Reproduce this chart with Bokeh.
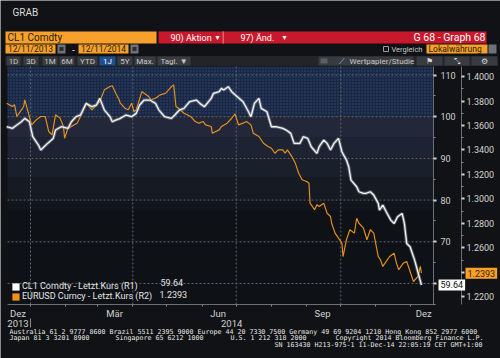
import pandas as pd
from bokeh.plotting import figure
from bokeh.models import (Range1d, LinearAxis, DatetimeAxis, FixedTicker, Label, BoxAnnotation,
                          Legend, LegendItem, CustomJSTickFormatter, PrintfTickFormatter)
from bokeh.embed import file_html
from bokeh.resources import INLINE

# ---------------- data ----------------
cl1_dates = ["2013-12-11", "2013-12-16", "2013-12-20", "2013-12-24", "2013-12-27", "2013-12-31",
             "2014-01-03", "2014-01-08", "2014-01-10", "2014-01-13", "2014-01-16", "2014-01-21",
             "2014-01-23", "2014-01-28", "2014-02-03", "2014-02-06", "2014-02-10", "2014-02-14",
             "2014-02-19", "2014-02-24", "2014-02-28", "2014-03-03", "2014-03-07", "2014-03-12",
             "2014-03-14", "2014-03-17", "2014-03-21", "2014-03-26", "2014-03-31", "2014-04-04",
             "2014-04-07", "2014-04-11", "2014-04-16", "2014-04-21", "2014-04-24", "2014-04-29",
             "2014-05-05", "2014-05-08", "2014-05-12", "2014-05-16", "2014-05-21", "2014-05-27",
             "2014-05-30", "2014-06-03", "2014-06-09", "2014-06-11", "2014-06-16", "2014-06-18",
             "2014-06-20", "2014-06-24", "2014-06-27", "2014-07-02", "2014-07-07", "2014-07-11",
             "2014-07-14", "2014-07-17", "2014-07-21", "2014-07-23", "2014-07-28", "2014-08-01",
             "2014-08-05", "2014-08-11", "2014-08-14", "2014-08-18", "2014-08-21", "2014-08-26",
             "2014-08-29", "2014-09-02", "2014-09-05", "2014-09-10", "2014-09-12", "2014-09-16",
             "2014-09-19", "2014-09-22", "2014-09-25", "2014-09-29", "2014-10-02", "2014-10-06",
             "2014-10-08", "2014-10-10", "2014-10-15", "2014-10-17", "2014-10-21", "2014-10-23",
             "2014-10-27", "2014-10-30", "2014-11-03", "2014-11-04", "2014-11-07", "2014-11-10",
             "2014-11-14", "2014-11-17", "2014-11-20", "2014-11-24", "2014-11-26", "2014-11-28",
             "2014-12-01", "2014-12-03", "2014-12-05", "2014-12-09", "2014-12-11"]
cl1_values = [97.6, 97.2, 98.0, 98.8, 99.6, 98.8,
              95.2, 93.2, 92.0, 92.8, 93.6, 94.8,
              96.8, 97.6, 97.2, 98.8, 100.0, 100.4,
              103.2, 102.4, 102.8, 104.4, 101.6, 100.0,
              98.8, 99.2, 99.6, 100.4, 100.0, 100.8,
              102.8, 104.0, 104.0, 103.2, 101.6, 100.0,
              99.6, 100.4, 101.6, 102.0, 103.6, 104.0,
              103.2, 102.4, 104.4, 105.6, 106.0, 106.8,
              106.4, 107.2, 106.0, 104.8, 103.6, 101.6,
              100.0, 103.2, 104.4, 102.0, 101.2, 97.6,
              97.6, 97.2, 96.8, 96.0, 93.6, 93.6,
              95.2, 94.8, 92.8, 91.2, 92.8, 94.4,
              93.6, 92.0, 93.6, 94.8, 91.6, 89.6,
              88.0, 84.8, 83.2, 82.0, 81.6, 81.6,
              82.0, 81.2, 79.2, 77.6, 78.8, 77.2,
              75.2, 74.4, 76.0, 76.8, 74.4, 69.6,
              68.8, 67.2, 65.6, 61.6, 59.64]

eur_dates = ["2013-12-11", "2013-12-16", "2013-12-18", "2013-12-20", "2013-12-24", "2013-12-26",
             "2013-12-27", "2013-12-31", "2014-01-02", "2014-01-06", "2014-01-10", "2014-01-14",
             "2014-01-17", "2014-01-20", "2014-01-23", "2014-01-27", "2014-01-30", "2014-01-31",
             "2014-02-03", "2014-02-06", "2014-02-11", "2014-02-14", "2014-02-19", "2014-02-24",
             "2014-02-27", "2014-03-03", "2014-03-07", "2014-03-12", "2014-03-14", "2014-03-17",
             "2014-03-20", "2014-03-21", "2014-03-25", "2014-03-28", "2014-03-31", "2014-04-02",
             "2014-04-04", "2014-04-09", "2014-04-11", "2014-04-15", "2014-04-17", "2014-04-21",
             "2014-04-25", "2014-04-30", "2014-05-05", "2014-05-07", "2014-05-09", "2014-05-13",
             "2014-05-16", "2014-05-22", "2014-05-26", "2014-05-29", "2014-06-02", "2014-06-04",
             "2014-06-09", "2014-06-10", "2014-06-13", "2014-06-16", "2014-06-18", "2014-06-23",
             "2014-06-27", "2014-06-30", "2014-07-03", "2014-07-07", "2014-07-10", "2014-07-14",
             "2014-07-16", "2014-07-21", "2014-07-25", "2014-07-29", "2014-08-01", "2014-08-04",
             "2014-08-07", "2014-08-11", "2014-08-13", "2014-08-15", "2014-08-19", "2014-08-22",
             "2014-08-25", "2014-08-28", "2014-09-01", "2014-09-03", "2014-09-04", "2014-09-08",
             "2014-09-10", "2014-09-12", "2014-09-16", "2014-09-19", "2014-09-22", "2014-09-23",
             "2014-09-26", "2014-09-29", "2014-10-02", "2014-10-03", "2014-10-06", "2014-10-09",
             "2014-10-13", "2014-10-15", "2014-10-17", "2014-10-21", "2014-10-24", "2014-10-27",
             "2014-10-30", "2014-11-03", "2014-11-05", "2014-11-07", "2014-11-10", "2014-11-13",
             "2014-11-17", "2014-11-19", "2014-11-21", "2014-11-25", "2014-11-28", "2014-12-01",
             "2014-12-04", "2014-12-08", "2014-12-10", "2014-12-11"]
eur_values = [1.3782, 1.3755, 1.3769, 1.3673, 1.3728, 1.3755,
              1.3810, 1.3673, 1.3605, 1.3646, 1.3673, 1.3673,
              1.3551, 1.3524, 1.3687, 1.3660, 1.3592, 1.3496,
              1.3578, 1.3592, 1.3619, 1.3673, 1.3782, 1.3728,
              1.3755, 1.3796, 1.3891, 1.3918, 1.3925, 1.3864,
              1.3810, 1.3782, 1.3741, 1.3728, 1.3782, 1.3714,
              1.3728, 1.3877, 1.3864, 1.3837, 1.3810, 1.3823,
              1.3850, 1.3864, 1.3918, 1.3932, 1.3755, 1.3728,
              1.3700, 1.3673, 1.3632, 1.3619, 1.3632, 1.3605,
              1.3592, 1.3537, 1.3551, 1.3564, 1.3592, 1.3619,
              1.3659, 1.3695, 1.3605, 1.3619, 1.3632, 1.3605,
              1.3537, 1.3510, 1.3455, 1.3428, 1.3414, 1.3373,
              1.3401, 1.3401, 1.3373, 1.3401, 1.3346, 1.3292,
              1.3210, 1.3156, 1.3142, 1.3128, 1.2965, 1.2911,
              1.2952, 1.2938, 1.2965, 1.2883, 1.2856, 1.2801,
              1.2720, 1.2679, 1.2638, 1.2529, 1.2666, 1.2748,
              1.2720, 1.2842, 1.2801, 1.2761, 1.2666, 1.2748,
              1.2720, 1.2529, 1.2502, 1.2448, 1.2489, 1.2529,
              1.2556, 1.2475, 1.2421, 1.2475, 1.2489, 1.2407,
              1.2325, 1.2366, 1.2448, 1.2393]

cl1_ticks = [60, 70, 80, 90, 100, 110]
cl1_minor = [55, 65, 75, 85, 95, 105]
eur_ticks = [1.22, 1.24, 1.26, 1.28, 1.30, 1.32, 1.34, 1.36, 1.38, 1.40]
eur_minor = [1.23, 1.25, 1.27, 1.29, 1.31, 1.33, 1.35, 1.37, 1.39]
month_label_dates = ["2013-12-21", "2014-03-16", "2014-06-15", "2014-09-15", "2014-12-13"]
month_starts = ["2014-01-01", "2014-02-01", "2014-03-01", "2014-04-01", "2014-05-01", "2014-06-01",
                "2014-07-01", "2014-08-01", "2014-09-01", "2014-10-01", "2014-11-01", "2014-12-01"]
quarter_starts = ["2014-01-01", "2014-04-01", "2014-07-01", "2014-10-01"]
year_label_dates = ["2013-12-21", "2014-06-27"]
months_de = ["Jan", "Feb", "Mär", "Apr", "Mai", "Jun", "Jul", "Aug", "Sep", "Okt", "Nov", "Dez"]

cl1_label = "CL1 Comdty - Letzt.Kurs (R1)"
eur_label = "EURUSD Curncy - Letzt.Kurs (R2)"
cl1_last = "59.64"
eur_last = "1.2393"

# ---------------- geometry of the terminal window ----------------
W, H = 500, 358
FL, FT, FR, FB = 7, 66, 433, 304          # chart area inside the window (page pixels)
BG = "#101215"
ORANGE = "#f7a12c"
TXT = "#d2d2d2"
GRID = "#60656d"

x0 = pd.Timestamp("2014-01-01") - pd.Timedelta(days=20.24)   # chart area time span
x1 = pd.Timestamp("2014-01-01") + pd.Timedelta(days=354.6)
c_lo, c_hi = 54.95, 112.05                                   # R1 axis span
e_lo, e_hi = 1.2137, 1.4082                                  # R2 axis span


def ms(t):
    return pd.Timestamp(t).value / 1e6


dpp = (x1 - x0) / (FR - FL)


def date_at(X):
    return x0 + (X - FL) * dpp


def cl1_at(Y):
    return c_hi - (Y - FT) * (c_hi - c_lo) / (FB - FT)


def eur_at(Y):
    return e_hi - (Y - FT) * (e_hi - e_lo) / (FB - FT)


# the frame covers the whole window; the chart's own ranges are extended so that the
# chart area sits where the terminal draws it, and the chrome is drawn around it
p = figure(width=W, height=H, x_axis_type="datetime", y_axis_location="right",
           x_range=Range1d(date_at(0), date_at(W)), y_range=Range1d(cl1_at(H), cl1_at(0)),
           output_backend="svg", toolbar_location=None, title_location=None,
           min_border=0, min_border_left=0, min_border_right=0, min_border_top=0,
           min_border_bottom=0)
p.background_fill_color = BG
p.border_fill_color = BG
p.outline_line_color = None
p.xgrid.visible = False
p.ygrid.visible = False
p.extra_x_ranges = {"px": Range1d(0, W)}
p.extra_y_ranges = {"eur": Range1d(eur_at(H), eur_at(0)), "py": Range1d(H, 0)}


def box(xa, ya, xb, yb, color, line=None):
    p.add_layout(BoxAnnotation(left=xa, right=xb, top=ya, bottom=yb,
                               x_range_name="px", y_range_name="py",
                               fill_color=color, fill_alpha=1.0 if color else 0,
                               line_color=line, line_alpha=1.0, level="annotation"))


def txt(x, y, s, size=9, color=TXT, align="left", font="Roboto"):
    p.add_layout(Label(x=x, y=y, x_range_name="px", y_range_name="py", text=s,
                       text_font=font, text_font_size=f"{size}px", text_color=color,
                       text_align=align, text_baseline="middle"))


# ---------------- background bands in the chart area ----------------
bands = [(100.26, c_hi, "#1b2740"), (94.98, 100.26, "#222839"), (90.18, 94.98, "#1d2333"),
         (85.38, 90.18, "#1a1f2c"), (80.10, 85.38, "#161a22"), (77.46, 80.10, "#12161c"),
         (c_lo, 77.46, "#0e1115")]
for i, (b, t, c) in enumerate(bands):
    kw = dict(left=ms(x0), right=ms(x1), bottom=b, top=t, fill_color=c, fill_alpha=1.0,
              line_color=None, level="image")
    if i == 0:
        kw.update(hatch_pattern="dot", hatch_color="#3a6cc0", hatch_alpha=0.55, hatch_scale=3)
    p.add_layout(BoxAnnotation(**kw))

# ---------------- grid lines (from the tick arrays) ----------------
p.segment(x0=[x0] * len(cl1_ticks), x1=[x1] * len(cl1_ticks), y0=cl1_ticks, y1=cl1_ticks,
          line_color=GRID, line_dash="2 2", line_width=1)
qd = pd.to_datetime(quarter_starts)
p.segment(x0=qd, x1=qd, y0=[c_lo] * len(qd), y1=[c_hi] * len(qd),
          line_color=GRID, line_dash="2 2", line_width=1)

# ---------------- series ----------------
cd = pd.to_datetime(cl1_dates)
ed = pd.to_datetime(eur_dates)
p.line(ed, eur_values, y_range_name="eur", line_color="#e8921c", line_width=1.15)
p.line(cd, cl1_values, line_color="#8a9099", line_width=3.2, line_alpha=0.6)
p.line(cd, cl1_values, line_color="#f4f4f4", line_width=1.3)

# ---------------- axes ----------------
def style_axis(ax):
    ax.axis_line_color = "#6a6e75"
    ax.major_label_text_color = TXT
    ax.major_label_text_font = "Roboto"
    ax.major_label_text_font_size = "9px"
    ax.major_tick_line_color = TXT
    ax.minor_tick_line_color = "#8a8d92"


ax1 = p.yaxis[0]
ax1.ticker = FixedTicker(ticks=cl1_ticks, minor_ticks=cl1_minor)
ax1.fixed_location = ms(x1)
ax1.bounds = (c_lo, c_hi)
style_axis(ax1)
ax1.major_tick_out = 3
ax1.major_tick_in = 0
ax1.major_tick_line_width = 2
ax1.minor_tick_out = 2
ax1.minor_tick_in = 0
ax1.major_label_standoff = 4

ax2 = LinearAxis(y_range_name="eur", ticker=FixedTicker(ticks=eur_ticks, minor_ticks=eur_minor),
                 formatter=PrintfTickFormatter(format="%.4f"),
                 fixed_location=ms(date_at(461)), bounds=(e_lo, e_hi))
style_axis(ax2)
ax2.major_tick_out = 3
ax2.major_tick_in = 0
ax2.major_tick_line_width = 2
ax2.minor_tick_out = 2
ax2.minor_tick_in = 0
ax2.major_label_standoff = 2
p.add_layout(ax2, "right")

xa = p.xaxis[0]
xa.ticker = FixedTicker(ticks=[ms(d) for d in month_label_dates],
                        minor_ticks=[ms(d) for d in month_starts])
xa.formatter = CustomJSTickFormatter(args=dict(names=months_de),
                                     code="return names[new Date(tick).getUTCMonth()]")
xa.fixed_location = c_lo
xa.bounds = (ms(x0), ms(x1))
style_axis(xa)
xa.major_tick_out = 2
xa.major_tick_in = 0
xa.major_tick_line_color = None
xa.minor_tick_out = 2
xa.minor_tick_in = 0
xa.major_label_standoff = 1
xa.major_label_text_font_size = "9.5px"

ya = DatetimeAxis(ticker=FixedTicker(ticks=[ms(d) for d in year_label_dates],
                                     minor_ticks=[ms("2014-01-01")]),
                  formatter=CustomJSTickFormatter(code="return String(new Date(tick).getUTCFullYear())"),
                  fixed_location=cl1_at(318))
style_axis(ya)
ya.axis_line_color = None
ya.major_tick_out = 9
ya.major_tick_in = 0
ya.major_tick_line_color = None
ya.minor_tick_out = 9
ya.minor_tick_in = 0
ya.major_label_standoff = -8
ya.major_label_text_font_size = "9.5px"
p.add_layout(ya, "below")

# ---------------- legend (square swatches from zero-size quads at the last points) ----------------
r1 = p.quad(left=cd[-1:], right=cd[-1:], bottom=cl1_values[-1:], top=cl1_values[-1:],
            fill_color="white", line_color=None)
r2 = p.quad(left=ed[-1:], right=ed[-1:], bottom=eur_values[-1:], top=eur_values[-1:],
            y_range_name="eur", fill_color="#f0901a", line_color=None)
legend = Legend(items=[LegendItem(label=cl1_label, renderers=[r1]),
                       LegendItem(label=eur_label, renderers=[r2])],
                location=(11, H - 301), background_fill_alpha=0, border_line_color=None,
                label_text_color="#e4e4e4", label_text_font="Roboto", label_text_font_size="9px",
                glyph_width=9, glyph_height=9, label_height=10, spacing=0, padding=3, margin=0,
                label_standoff=2)
p.add_layout(legend)
txt(160, 282, cl1_last, 9, "#e4e4e4")
txt(159, 293.5, eur_last, 9, "#e4e4e4")

# last value markers on the right axes
p.add_layout(Label(x=438, y=float(cl1_last), x_range_name="px", text=cl1_last,
                   text_baseline="middle", text_font="Roboto", text_font_size="9px",
                   text_color="#111111", background_fill_color="white", padding=2))
p.add_layout(Label(x=465, y=float(eur_last), x_range_name="px", y_range_name="eur",
                   text=eur_last, text_baseline="middle", text_font="Roboto", text_font_size="9px",
                   text_color="#3a2200", background_fill_color=ORANGE, padding=2))

# ---------------- terminal chrome ----------------
txt(12, 12, "GRAB", 10, "#dcdcdc")
box(5, 31, 156, 43, ORANGE)
txt(7, 37, "CL1 Comdty", 10, "#2b1b00")
box(158, 31, 486, 43, "#c8182c")
box(222, 31, 223.5, 43, "#e0606c")
txt(170, 37, "90) Aktion", 9, "white")
txt(215, 37, "▾", 8, "white", font="DejaVu Sans")
txt(240, 37, "97) Änd.", 9, "white")
txt(282, 37, "▾", 8, "white", font="DejaVu Sans")
txt(485, 37, "G 68 - Graph 68", 10.5, "white", align="right")

box(5, 44, 55, 53, ORANGE)
txt(30, 48.6, "12/11/2013", 8.5, "#2b1b00", align="center")
box(57, 44, 65, 53, "#6e7176")
box(59, 46.5, 63, 50.5, "#2c2e31")
txt(73, 48.6, "-", 9, "white", align="center")
box(78, 44, 128, 53, ORANGE)
txt(103, 48.6, "12/11/2014", 8.5, "#2b1b00", align="center")
box(130, 44, 138, 53, "#6e7176")
box(132, 46.5, 136, 50.5, "#2c2e31")
box(383, 46, 388, 51, None, line="#9a9da2")
txt(391, 48.6, "Vergleich", 7.5, "#c8c8c8")
box(426, 44, 487, 53, ORANGE)
txt(428, 48.6, "Lokalwährung", 8.5, "#2b1b00")
box(488, 44, 496, 53, "#6e7176")

box(5, 55.5, 497, 65.5, "#222428")
buttons = [("1D", 6, 20), ("3D", 23, 38), ("1M", 42, 57), ("6M", 59, 74), ("YTD", 77, 97),
           ("1J", 99, 115), ("5Y", 117, 132), ("Max.", 134, 155), ("Tagl. ▼", 157, 190)]
for lab, a, b in buttons:
    sel = lab == "1J"
    box(a, 56, b, 65, "#1d4f91" if sel else "#383b40")
    txt((a + b) / 2, 60.7, lab, 8, "white" if sel else "#c8c8c8", align="center")
box(318, 56, 413, 65, "#383b40")
box(320, 58, 327, 63, "#5c5f64")
txt(341, 60.7, "⟋", 8, "#c8c8c8", align="center", font="DejaVu Sans")
txt(349, 60.7, "Wertpapier/Studie", 8, "#c8c8c8")
for a, b, icon in [(416, 442, "⚑"), (444, 469, "⤡"), (471, 497, "⚙")]:
    box(a, 56, b, 65, "#383b40")
    txt((a + b) / 2, 60.7, icon, 8, "#d8d8d8", align="center", font="DejaVu Sans")

# ---------------- footer ----------------
MONO = "DejaVu Sans Mono"
FS = 6.65
txt(9, 331, "Australia 61 2 9777 8600 Brazil 5511 2395 9000 Europe 44 20 7330 7500 "
            "Germany 49 69 9204 1210 Hong Kong 852 2977 6000", FS, "#e8e8e8", font=MONO)
txt(9, 337.5, "Japan 81 3 3201 8900", FS, "#e8e8e8", font=MONO)
txt(115, 337.5, "Singapore 65 6212 1000", FS, "#e8e8e8", font=MONO)
txt(230, 337.5, "U.S. 1 212 318 2000", FS, "#e8e8e8", font=MONO)
txt(335, 337.5, "Copyright 2014 Bloomberg Finance L.P.", FS, "#e8e8e8", font=MONO)
txt(486, 344, "SN 163430 H213-975-1 11-Dec-14 22:05:19 CET  GMT+1:00", FS, "#e8e8e8",
    align="right", font=MONO)

open("out.html", "w").write(file_html(p, INLINE))
